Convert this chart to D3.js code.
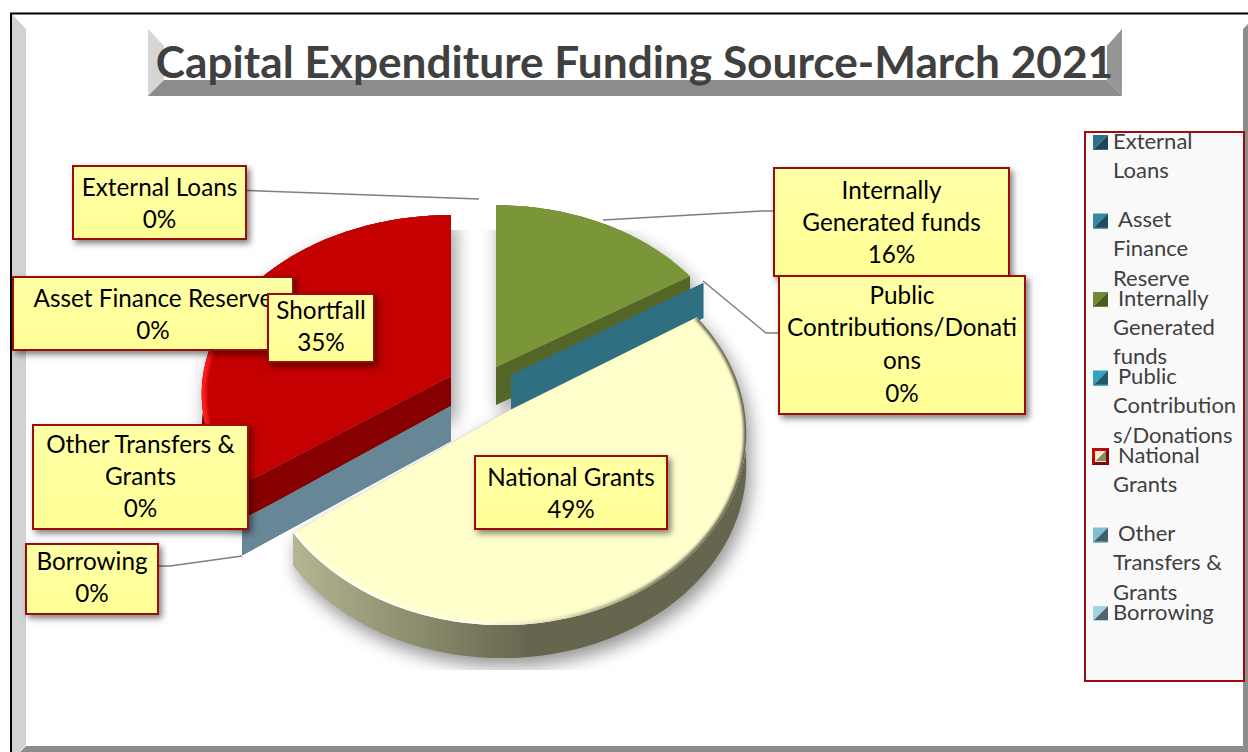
<!DOCTYPE html>
<html>
<head>
<meta charset="utf-8">
<title>Capital Expenditure Funding Source-March 2021</title>
<script src="https://cdn.jsdelivr.net/npm/d3@7/dist/d3.min.js"></script>
<style>
  html, body { margin: 0; padding: 0; background: #fff; overflow: hidden; }
  svg { display: block; }
  text { font-family: Lato, "Noto Sans", sans-serif; }
</style>
</head>
<body>
<svg id="chart" width="1248" height="752"></svg>
<script>
// Funding sources, clockwise from twelve o'clock
const categories = ["External Loans", "Asset Finance Reserve", "Internally Generated funds",
  "Public Contributions/Donations", "National Grants", "Other Transfers & Grants", "Borrowing", "Shortfall"];
const shares = [0, 0, 16, 0, 49, 0, 0, 35];
const topColours = ["#2f6f82", "#2f7f98", "#7a9639", "#2f6f82", "#ffffcc", "#678797", "#678797", "#c40000"];
const wallColours = ["#2f6f82", "#2f7f98", "#536527", "#2f6f82", "#66654e", "#678797", "#678797", "#870000"];
const keyLight = ["#2f7286", "#338aa4", "#6f8a35", "#35a3c2", "#f2f0c8", "#7fc0d8", "#a3d4e6"];
const keyDark = ["#1f4452", "#1f4c5c", "#4a5a22", "#1f5a6c", "#8a8a68", "#41606c", "#4f6670"];

// Wrapped text of each data label; the percentage line comes from shares
const labelLines = [["External Loans"], ["Asset Finance Reserve"], ["Internally", "Generated funds"],
  ["Public", "Contributions/Donati", "ons"], ["National Grants"], ["Other Transfers &", "Grants"], ["Borrowing"], ["Shortfall"]];
const legendLines = [["External", "Loans"], ["Asset", "Finance", "Reserve"], ["Internally", "Generated", "funds"],
  ["Public", "Contribution", "s/Donations"], ["National", "Grants"], ["Other", "Transfers &", "Grants"], ["Borrowing"]];
const legendIndent = [0, 5, 5, 5, 5, 5, 0];

// Exploded centre and radii of each slice on the tilted disc
const sliceFrames = [
  { cx: 451, cy: 376, rx: 248, ry: 177, depth: 0 },
  { cx: 451, cy: 376, rx: 248, ry: 177, depth: 0 },
  { cx: 496, cy: 367, rx: 242, ry: 178, depth: 38 },
  { cx: 511, cy: 375, rx: 240, ry: 181, depth: 35 },
  { cx: 502, cy: 414, rx: 243, ry: 190, depth: 33 },
  { cx: 451, cy: 406, rx: 243, ry: 183, depth: 35 },
  { cx: 451, cy: 406, rx: 243, ry: 183, depth: 35 },
  { cx: 451, cy: 376, rx: 248, ry: 177, depth: 35 }
];
const paintOrder = [7, 0, 1, 2, 5, 6, 3, 4];

// Box of each data label: x, y, width, height, and the order they stack in
const labelBoxes = [
  [73, 166, 173, 73], [13, 277, 280, 73], [774, 168, 235, 108], [779, 276, 246, 138],
  [475, 456, 192, 73], [33, 425, 215, 104], [26, 544, 132, 70], [268, 294, 106, 68]
];
const labelNudge = [1.5, 1.5, 1, 0, 2, 0, -1, -1];
const labelOrder = [0, 2, 3, 1, 7, 5, 6, 4];
const leaderPaths = [
  [[247, 190.5], [479, 199]],
  [[603, 220], [762, 211], [774, 211]],
  [[703, 281], [766, 333], [779, 333]],
  [[158, 566], [170, 566], [242, 556]]
];

const svg = d3.select("#chart");
const defs = svg.append("defs");

// Perspective of the tilted disc: the near edge is drawn larger than the far edge
const perspective = 0.1;
function project(f, theta, radius = 1, drop = 0) {
  const u = radius * Math.sin(theta), v = -radius * Math.cos(theta), w = 1 - perspective * v;
  return [f.cx + f.rx * u / w, f.cy + f.ry * v / w + drop];
}
const pieLayout = d3.pie().value(d => d).sort(null);
const arcs = pieLayout(shares);
const polyline = d3.line();

function rimPoints(f, a, drop = 0) {
  const steps = Math.max(1, Math.ceil((a.endAngle - a.startAngle) / 0.02));
  return d3.range(steps + 1).map(i =>
    project(f, a.startAngle + (a.endAngle - a.startAngle) * i / steps, 1, drop));
}
const facePath = (f, a, drop = 0) => polyline([project(f, 0, 0, drop), ...rimPoints(f, a, drop)]) + "Z";
const rimWall = (f, a) => polyline([...rimPoints(f, a), ...rimPoints(f, a, f.depth).reverse()]) + "Z";
const cutWall = (f, theta) => polyline([project(f, 0, 0), project(f, theta), project(f, theta, 1, f.depth), project(f, 0, 0, f.depth)]) + "Z";

// Paint servers and filters
function gradient(id, attrs, stops) {
  const g = defs.append("linearGradient").attr("id", id);
  Object.entries(attrs).forEach(([k, v]) => g.attr(k, v));
  stops.forEach(([o, c]) => g.append("stop").attr("offset", o).attr("stop-color", c));
}
gradient("yellowWall", { gradientUnits: "userSpaceOnUse", x1: 292, x2: 530, y1: 0, y2: 0 },
  [[0, "#b6b692"], [0.55, "#8a8a6c"], [1, "#66654e"]]);
gradient("yellowRim", { gradientUnits: "userSpaceOnUse", x1: 292, x2: 745, y1: 0, y2: 0 },
  [[0, "#ffffff"], [0.4, "#fffff0"], [0.6, "#d8d8ac"], [0.8, "#7b7a60"], [1, "#55543f"]]);
gradient("redRim", { gradientUnits: "userSpaceOnUse", x1: 203, x2: 250, y1: 0, y2: 0 },
  [[0, "#ff1c1c"], [1, "#c40000"]]);
gradient("labelFill", { x1: 0, x2: 0, y1: 0, y2: 1 }, [[0, "#ffffa6"], [1, "#ffff96"]]);

const softBlur = defs.append("filter").attr("id", "softBlur")
  .attr("filterUnits", "userSpaceOnUse").attr("x", 0).attr("y", 0).attr("width", 1248).attr("height", 752);
softBlur.append("feGaussianBlur").attr("stdDeviation", 9);
const rimBlur = defs.append("filter").attr("id", "rimBlur")
  .attr("filterUnits", "userSpaceOnUse").attr("x", 0).attr("y", 0).attr("width", 1248).attr("height", 752);
rimBlur.append("feGaussianBlur").attr("stdDeviation", 1.4);
const boxShadow = defs.append("filter").attr("id", "boxShadow")
  .attr("x", "-15%").attr("y", "-20%").attr("width", "130%").attr("height", "140%");
boxShadow.append("feDropShadow").attr("dx", 3).attr("dy", 3.5).attr("stdDeviation", 3)
  .attr("flood-color", "#000").attr("flood-opacity", 0.5);
defs.append("clipPath").attr("id", "shadowClip").append("rect")
  .attr("x", 0).attr("y", 230).attr("width", 782).attr("height", 440);

// Outer chart frame with its bevelled sides
const frame = svg.append("g");
const bevel = (g, pts, fill) => g.append("path").attr("d", polyline(pts) + "Z").attr("fill", fill);
bevel(frame, [[12, 14], [26, 29], [26, 745], [19, 752], [12, 752]], "#d2d2d2");
bevel(frame, [[1243, 29], [1248, 24], [1248, 752], [1243, 746]], "#8c8c8c");
bevel(frame, [[26, 746], [1248, 746], [1248, 752], [20, 752]], "#8c8c8c");
frame.append("path").attr("d", polyline([[11, 752], [11, 13.5], [1248, 13.5]]))
  .attr("fill", "none").attr("stroke", "#000").attr("stroke-width", 2);

// Title plate
const plate = svg.append("g");
bevel(plate, [[148, 29], [164, 46], [164, 80], [148, 96]], "#d6d6d6");
bevel(plate, [[148, 96], [164, 80], [1107, 80], [1122, 96]], "#8c8c8c");
bevel(plate, [[1122, 29], [1107, 46], [1107, 80], [1122, 96]], "#969696");
plate.append("text").attr("x", 634.5).attr("y", 78).attr("text-anchor", "middle")
  .attr("font-size", 44.2).attr("font-weight", 700).attr("fill", "#404040")
  .text("Capital Expenditure Funding Source-March 2021");

// Soft shadow cast by the three visible slices
const shadow = svg.append("g").attr("clip-path", "url(#shadowClip)")
  .append("g").attr("filter", "url(#softBlur)").attr("opacity", 0.42)
  .attr("transform", "translate(4,8)");
arcs.forEach((a, i) => {
  if (a.endAngle - a.startAngle < 0.01) return;
  const f = sliceFrames[i];
  shadow.append("path").attr("d", facePath(f, a));
  shadow.append("path").attr("d", facePath(f, a, f.depth));
  shadow.append("path").attr("d", rimWall(f, a));
});

// Slices, painted back to front
const pieGroup = svg.append("g");
paintOrder.forEach(i => {
  const a = arcs[i], f = sliceFrames[i], g = pieGroup.append("g");
  const wallFill = i === 4 ? "url(#yellowWall)" : wallColours[i];
  if (f.depth > 0) {
    g.append("path").attr("d", rimWall(f, a)).attr("fill", wallFill);
    g.append("path").attr("d", cutWall(f, a.startAngle)).attr("fill", wallFill);
    g.append("path").attr("d", cutWall(f, a.endAngle)).attr("fill", wallFill);
  }
  if (a.endAngle - a.startAngle < 0.01) return;
  g.append("path").attr("d", facePath(f, a)).attr("fill", topColours[i]);
  if (i === 4 || i === 7) {
    defs.append("clipPath").attr("id", "face" + i).append("path").attr("d", facePath(f, a));
    g.append("g").attr("clip-path", `url(#face${i})`).append("path")
      .attr("d", polyline(rimPoints(f, a)))
      .attr("fill", "none").attr("filter", "url(#rimBlur)")
      .attr("stroke", i === 4 ? "url(#yellowRim)" : "url(#redRim)").attr("stroke-width", i === 4 ? 5 : 9);
  }
});

// Leader lines from labels to their slices
svg.append("g").selectAll("path").data(leaderPaths).join("path")
  .attr("d", d => polyline(d)).attr("fill", "none").attr("stroke", "#7f7f7f").attr("stroke-width", 1.5);

// Data labels
const labelGroup = svg.append("g");
labelOrder.forEach(i => {
  const [x, y, w, h] = labelBoxes[i];
  const g = labelGroup.append("g");
  g.append("rect").attr("x", x).attr("y", y).attr("width", w).attr("height", h)
    .attr("fill", "url(#labelFill)").attr("stroke", "#9b0e0e").attr("stroke-width", 2)
    .attr("filter", "url(#boxShadow)");
  const lines = [...labelLines[i], shares[i] + "%"];
  const lead = lines.length === 4 ? 32.7 : 32;
  const firstBase = y + h / 2 - (lines.length * lead) / 2 + lead * 0.74 + labelNudge[i];
  lines.forEach((t, k) => g.append("text")
    .attr("x", x + w / 2).attr("y", firstBase + k * lead).attr("text-anchor", "middle")
    .attr("font-size", 24.3).attr("fill", "#000").text(t));
});

// Legend box, keys placed evenly down its height
const legendY = d3.scalePoint().domain(categories.slice(0, 7)).range([142.5, 613.5]);
const legend = svg.append("g");
legend.append("rect").attr("x", 1085).attr("y", 132).attr("width", 159).attr("height", 549)
  .attr("fill", "#f9f9f9").attr("stroke", "#9b0e0e").attr("stroke-width", 2);
categories.slice(0, 7).forEach((c, i) => {
  const y = legendY(c);
  const half = i === 4 ? 5.5 : 7.5;
  const mid = i === 4 ? 1100.5 : 1100.5;
  const x0 = mid - half, x1 = mid + half, y0 = y - half, y1 = y + half;
  const g = legend.append("g");
  if (i === 4) {
    // The selected series carries a heavy red outline, darker along its lower edge
    g.append("rect").attr("x", mid - 8.5).attr("y", y - 8.5).attr("width", 17).attr("height", 17).attr("fill", "#c00a0a");
    bevel(g, [[mid + 8.5, y - 8.5], [mid + 8.5, y + 8.5], [mid - 8.5, y + 8.5]], "#7e0606");
  }
  bevel(g, [[x0, y0], [x1, y0], [x0, y1]], keyLight[i]);
  bevel(g, [[x1, y0], [x1, y1], [x0, y1]], keyDark[i]);
  g.append("rect").attr("x", x0).attr("y", y1 - 1).attr("width", x1 - x0).attr("height", 1).attr("fill", keyLight[i]);
  legendLines[i].forEach((t, k) => g.append("text")
    .attr("x", k === 0 ? 1113 + legendIndent[i] : 1113)
    .attr("y", y + 6 + k * 29.4)
    .attr("font-size", 22).attr("fill", "#404040").text(t));
});
</script>
</body>
</html>
